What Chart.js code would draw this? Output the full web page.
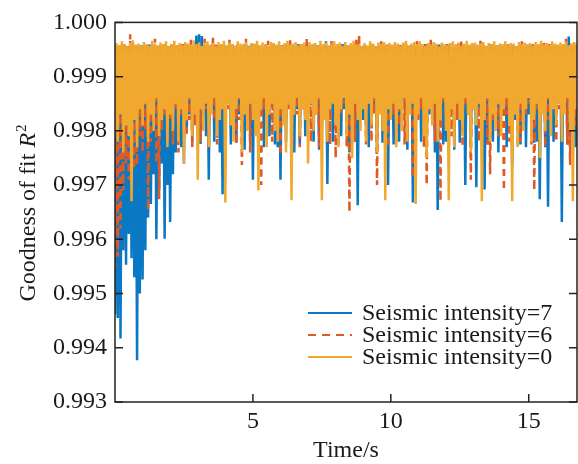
<!DOCTYPE html>
<html>
<head>
<meta charset="utf-8">
<script src="https://cdn.jsdelivr.net/npm/chart.js@4/dist/chart.umd.min.js"></script>
<style>
  html, body { margin: 0; padding: 0; background: #fff; }
</style>
</head>
<body>
<canvas id="chart" width="578" height="464"></canvas>
<script>
// sample spacing in seconds; each sample = one trough (lo) followed by one crest (hi)
const STEP = 0.1;

const xTicks = [5, 10, 15];
const yTicks = [0.993, 0.994, 0.995, 0.996, 0.997, 0.998, 0.999, 1.000];
const labels = ['Seismic intensity=7', 'Seismic intensity=6', 'Seismic intensity=0'];

// Seismic intensity = 7
const blueLo = [
  0.99462,0.99455,0.99417,0.99580,0.99553,0.99610,0.99565,0.99530,0.99377,0.99500,
  0.99526,0.99580,0.99640,0.99665,0.99720,0.99600,0.99690,0.99740,0.99601,0.99700,
  0.99632,0.99720,0.99760,0.99790,0.99770,0.99740,0.99800,0.99830,0.99780,0.99820,
  0.99840,0.99776,0.99830,0.99790,0.99710,0.99840,0.99780,0.99850,0.99760,0.99683,
  0.99830,0.99850,0.99775,0.99840,0.99780,0.99830,0.99850,0.99765,0.99840,0.99790,
  0.99710,0.99840,0.99820,0.99850,0.99770,0.99830,0.99790,0.99850,0.99775,0.99770,
  0.99710,0.99840,0.99780,0.99850,0.99830,0.99760,0.99840,0.99775,0.99850,0.99790,
  0.99830,0.99850,0.99780,0.99840,0.99765,0.99810,0.99850,0.99702,0.99840,0.99780,
  0.99850,0.99775,0.99790,0.99840,0.99850,0.99760,0.99830,0.99780,0.99663,0.99840,
  0.99820,0.99850,0.99770,0.99830,0.99840,0.99760,0.99850,0.99778,0.99830,0.99700,
  0.99840,0.99775,0.99850,0.99780,0.99830,0.99840,0.99765,0.99850,0.99668,0.99830,
  0.99850,0.99780,0.99840,0.99770,0.99830,0.99850,0.99760,0.99654,0.99840,0.99775,
  0.99780,0.99850,0.99830,0.99765,0.99840,0.99778,0.99850,0.99700,0.99830,0.99770,
  0.99840,0.99696,0.99830,0.99850,0.99692,0.99775,0.99840,0.99780,0.99850,0.99760,
  0.99830,0.99840,0.99770,0.99850,0.99735,0.99820,0.99840,0.99775,0.99850,0.99770,
  0.99830,0.99850,0.99778,0.99780,0.99674,0.99840,0.99770,0.99660,0.99850,0.99780,
  0.99830,0.99850,0.99632,0.99840,0.99775,0.99790,0.99850,0.99770
];
const blueHi = [
  0.99955,0.99958,0.99952,0.99960,0.99956,0.99953,0.99959,0.99957,0.99954,0.99958,
  0.99956,0.99953,0.99959,0.99955,0.99958,0.99952,0.99957,0.99960,0.99954,0.99956,
  0.99958,0.99955,0.99953,0.99959,0.99956,0.99960,0.99954,0.99957,0.99955,0.99976,
  0.99978,0.99975,0.99958,0.99954,0.99957,0.99960,0.99955,0.99958,0.99953,0.99956,
  0.99957,0.99954,0.99960,0.99956,0.99958,0.99953,0.99959,0.99955,0.99957,0.99960,
  0.99954,0.99958,0.99956,0.99953,0.99959,0.99957,0.99955,0.99960,0.99956,0.99954,
  0.99958,0.99955,0.99959,0.99957,0.99953,0.99956,0.99960,0.99954,0.99958,0.99955,
  0.99956,0.99959,0.99954,0.99958,0.99955,0.99957,0.99965,0.99953,0.99959,0.99956,
  0.99955,0.99957,0.99960,0.99954,0.99958,0.99956,0.99953,0.99959,0.99957,0.99955,
  0.99958,0.99954,0.99956,0.99960,0.99955,0.99957,0.99959,0.99953,0.99956,0.99958,
  0.99956,0.99959,0.99955,0.99957,0.99953,0.99960,0.99956,0.99958,0.99954,0.99957,
  0.99954,0.99957,0.99960,0.99955,0.99958,0.99956,0.99953,0.99959,0.99957,0.99955,
  0.99959,0.99955,0.99957,0.99954,0.99960,0.99956,0.99958,0.99953,0.99957,0.99959,
  0.99955,0.99958,0.99956,0.99959,0.99954,0.99957,0.99960,0.99955,0.99958,0.99956,
  0.99957,0.99954,0.99959,0.99956,0.99958,0.99955,0.99957,0.99960,0.99954,0.99958,
  0.99956,0.99959,0.99955,0.99957,0.99960,0.99954,0.99958,0.99956,0.99959,0.99955,
  0.99958,0.99955,0.99957,0.99960,0.99974,0.99956,0.99959,0.99957
];

// Seismic intensity = 6
const redLo = [
  0.99545,0.99568,0.99620,0.99690,0.99740,0.99710,0.99780,0.99730,0.99737,0.99790,
  0.99760,0.99800,0.99654,0.99780,0.99820,0.99740,0.99674,0.99800,0.99830,0.99780,
  0.99820,0.99775,0.99840,0.99760,0.99830,0.99850,0.99790,0.99820,0.99770,0.99810,
  0.99850,0.99780,0.99830,0.99840,0.99770,0.99850,0.99820,0.99775,0.99840,0.99850,
  0.99780,0.99840,0.99830,0.99850,0.99775,0.99820,0.99737,0.99840,0.99850,0.99760,
  0.99830,0.99850,0.99770,0.99700,0.99840,0.99820,0.99850,0.99780,0.99830,0.99840,
  0.99756,0.99850,0.99820,0.99840,0.99775,0.99850,0.99830,0.99770,0.99840,0.99820,
  0.99850,0.99780,0.99840,0.99830,0.99770,0.99850,0.99820,0.99840,0.99775,0.99850,
  0.99750,0.99840,0.99830,0.99850,0.99770,0.99650,0.99840,0.99780,0.99850,0.99830,
  0.99840,0.99775,0.99850,0.99780,0.99830,0.99700,0.99850,0.99820,0.99840,0.99770,
  0.99850,0.99830,0.99780,0.99810,0.99850,0.99775,0.99790,0.99840,0.99714,0.99850,
  0.99820,0.99840,0.99770,0.99700,0.99850,0.99830,0.99780,0.99810,0.99670,0.99850,
  0.99830,0.99775,0.99790,0.99850,0.99820,0.99840,0.99770,0.99850,0.99830,0.99710,
  0.99840,0.99850,0.99780,0.99830,0.99840,0.99775,0.99720,0.99820,0.99840,0.99790,
  0.99850,0.99690,0.99830,0.99780,0.99800,0.99850,0.99770,0.99780,0.99840,0.99830,
  0.99850,0.99775,0.99690,0.99840,0.99830,0.99850,0.99770,0.99820,0.99840,0.99850,
  0.99780,0.99840,0.99830,0.99850,0.99775,0.99737,0.99840,0.99810
];
const redHi = [
  0.99957,0.99960,0.99955,0.99959,0.99956,0.99978,0.99958,0.99954,0.99960,0.99957,
  0.99955,0.99959,0.99956,0.99958,0.99970,0.99954,0.99957,0.99960,0.99955,0.99958,
  0.99959,0.99956,0.99958,0.99954,0.99960,0.99957,0.99955,0.99968,0.99956,0.99959,
  0.99957,0.99955,0.99970,0.99958,0.99956,0.99974,0.99959,0.99955,0.99957,0.99960,
  0.99956,0.99968,0.99957,0.99955,0.99959,0.99956,0.99958,0.99970,0.99955,0.99957,
  0.99960,0.99955,0.99958,0.99956,0.99959,0.99966,0.99957,0.99955,0.99960,0.99958,
  0.99955,0.99959,0.99957,0.99968,0.99956,0.99958,0.99955,0.99960,0.99957,0.99970,
  0.99958,0.99956,0.99960,0.99955,0.99957,0.99959,0.99956,0.99958,0.99967,0.99955,
  0.99957,0.99960,0.99955,0.99958,0.99956,0.99959,0.99957,0.99968,0.99975,0.99956,
  0.99959,0.99955,0.99957,0.99960,0.99956,0.99958,0.99966,0.99955,0.99959,0.99957,
  0.99956,0.99958,0.99955,0.99959,0.99957,0.99960,0.99956,0.99958,0.99955,0.99970,
  0.99957,0.99955,0.99959,0.99956,0.99968,0.99957,0.99960,0.99955,0.99958,0.99956,
  0.99960,0.99956,0.99958,0.99955,0.99957,0.99969,0.99956,0.99958,0.99955,0.99959,
  0.99955,0.99958,0.99966,0.99957,0.99959,0.99956,0.99958,0.99955,0.99960,0.99957,
  0.99958,0.99955,0.99959,0.99957,0.99960,0.99956,0.99958,0.99968,0.99955,0.99959,
  0.99956,0.99959,0.99957,0.99955,0.99958,0.99966,0.99956,0.99960,0.99957,0.99955,
  0.99959,0.99956,0.99958,0.99970,0.99955,0.99957,0.99959,0.99956
];

// Seismic intensity = 0
const orangeLo = [
  0.99800,0.99780,0.99830,0.99760,0.99810,0.99790,0.99670,0.99820,0.99770,0.99840,
  0.99810,0.99850,0.99780,0.99830,0.99800,0.99860,0.99790,0.99820,0.99840,0.99770,
  0.99830,0.99800,0.99850,0.99780,0.99840,0.99740,0.99820,0.99860,0.99790,0.99830,
  0.99710,0.99840,0.99800,0.99850,0.99770,0.99830,0.99860,0.99790,0.99820,0.99840,
  0.99668,0.99850,0.99810,0.99780,0.99840,0.99860,0.99760,0.99830,0.99800,0.99850,
  0.99820,0.99790,0.99690,0.99840,0.99860,0.99770,0.99830,0.99850,0.99800,0.99780,
  0.99840,0.99810,0.99760,0.99850,0.99672,0.99830,0.99860,0.99790,0.99840,0.99820,
  0.99740,0.99850,0.99800,0.99830,0.99860,0.99672,0.99820,0.99780,0.99840,0.99850,
  0.99810,0.99770,0.99840,0.99860,0.99790,0.99830,0.99750,0.99850,0.99820,0.99800,
  0.99840,0.99780,0.99850,0.99810,0.99860,0.99760,0.99830,0.99800,0.99672,0.99840,
  0.99820,0.99850,0.99770,0.99840,0.99800,0.99860,0.99780,0.99830,0.99850,0.99665,
  0.99830,0.99860,0.99790,0.99750,0.99840,0.99810,0.99850,0.99780,0.99820,0.99860,
  0.99800,0.99672,0.99840,0.99770,0.99850,0.99820,0.99790,0.99860,0.99830,0.99760,
  0.99840,0.99810,0.99850,0.99670,0.99820,0.99860,0.99780,0.99830,0.99800,0.99850,
  0.99790,0.99840,0.99860,0.99810,0.99670,0.99830,0.99770,0.99850,0.99800,0.99840,
  0.99860,0.99780,0.99820,0.99850,0.99750,0.99830,0.99800,0.99860,0.99790,0.99840,
  0.99810,0.99850,0.99780,0.99830,0.99860,0.99800,0.99670,0.99840
];
const orangeHi = [
  0.99962,0.99958,0.99965,0.99960,0.99956,0.99963,0.99967,0.99959,0.99961,0.99957,
  0.99964,0.99960,0.99957,0.99966,0.99961,0.99958,0.99963,0.99960,0.99965,0.99956,
  0.99960,0.99966,0.99958,0.99962,0.99957,0.99964,0.99961,0.99959,0.99967,0.99960,
  0.99963,0.99957,0.99961,0.99965,0.99959,0.99962,0.99956,0.99964,0.99960,0.99966,
  0.99958,0.99963,0.99960,0.99957,0.99965,0.99961,0.99959,0.99964,0.99956,0.99962,
  0.99961,0.99966,0.99958,0.99963,0.99960,0.99957,0.99964,0.99962,0.99959,0.99965,
  0.99957,0.99962,0.99966,0.99959,0.99961,0.99964,0.99958,0.99960,0.99963,0.99956,
  0.99964,0.99959,0.99962,0.99957,0.99966,0.99960,0.99963,0.99958,0.99961,0.99965,
  0.99960,0.99963,0.99957,0.99964,0.99958,0.99962,0.99966,0.99959,0.99961,0.99957,
  0.99962,0.99958,0.99965,0.99961,0.99956,0.99963,0.99960,0.99964,0.99958,0.99962,
  0.99959,0.99964,0.99961,0.99957,0.99963,0.99966,0.99958,0.99961,0.99964,0.99960,
  0.99965,0.99960,0.99957,0.99962,0.99959,0.99964,0.99961,0.99956,0.99963,0.99960,
  0.99958,0.99962,0.99965,0.99960,0.99963,0.99957,0.99961,0.99966,0.99959,0.99962,
  0.99963,0.99959,0.99961,0.99964,0.99957,0.99962,0.99960,0.99965,0.99958,0.99961,
  0.99960,0.99965,0.99958,0.99962,0.99961,0.99956,0.99964,0.99960,0.99963,0.99959,
  0.99962,0.99957,0.99964,0.99960,0.99966,0.99959,0.99962,0.99958,0.99965,0.99961,
  0.99959,0.99963,0.99960,0.99965,0.99958,0.99962,0.99964,0.99960
];

const colors = ['#0A78C2', '#DE5A26', '#F0A92E'];
const dashes = [[], [7, 5], []];
const FONT = "'Liberation Serif', 'Times New Roman', Times, serif";

function zigzag(lo, hi) {
  const pts = [];
  for (let i = 0; i < lo.length; i++) {
    pts.push({ x: i * STEP, y: lo[i] });
    pts.push({ x: i * STEP + STEP / 2, y: hi[i] });
  }
  return pts;
}

// box, inward ticks, y title with italic R^2, x title, legend
const decorations = {
  id: 'decorations',
  afterDraw(chart) {
    const { ctx, chartArea: a, scales: { x, y } } = chart;
    ctx.save();
    ctx.strokeStyle = '#222';
    ctx.lineWidth = 1.5;
    ctx.strokeRect(a.left, a.top, a.right - a.left, a.bottom - a.top);
    ctx.beginPath();
    yTicks.forEach(v => {
      const py = y.getPixelForValue(v);
      ctx.moveTo(a.left, py); ctx.lineTo(a.left + 8, py);
      ctx.moveTo(a.right, py); ctx.lineTo(a.right - 8, py);
    });
    xTicks.forEach(v => {
      const px = x.getPixelForValue(v);
      ctx.moveTo(px, a.bottom); ctx.lineTo(px, a.bottom - 8);
    });
    ctx.stroke();

    ctx.fillStyle = '#1a1a1a';
    ctx.textBaseline = 'alphabetic';

    // x title
    ctx.font = `24px ${FONT}`;
    ctx.textAlign = 'center';
    ctx.fillText('Time/s', (a.left + a.right) / 2, 457);

    // y title
    ctx.save();
    ctx.translate(35, 213);
    ctx.rotate(-Math.PI / 2);
    ctx.textAlign = 'left';
    const p1 = 'Goodness of fit ';
    ctx.font = `24px ${FONT}`;
    const w1 = ctx.measureText(p1).width;
    ctx.font = `italic 24px ${FONT}`;
    const w2 = ctx.measureText('R').width;
    ctx.font = `15px ${FONT}`;
    const w3 = ctx.measureText('2').width;
    let u = -(w1 + w2 + w3 + 1) / 2;
    ctx.font = `24px ${FONT}`;
    ctx.fillText(p1, u, 0); u += w1;
    ctx.font = `italic 24px ${FONT}`;
    ctx.fillText('R', u, 0); u += w2 + 1;
    ctx.font = `15px ${FONT}`;
    ctx.fillText('2', u, -9);
    ctx.restore();

    // legend
    ctx.font = `24px ${FONT}`;
    ctx.textAlign = 'left';
    ctx.textBaseline = 'middle';
    labels.forEach((txt, i) => {
      const ly = 313 + i * 22;
      ctx.beginPath();
      ctx.strokeStyle = colors[i];
      ctx.lineWidth = 2;
      ctx.setLineDash(dashes[i].length ? [8, 6] : []);
      ctx.moveTo(308, ly); ctx.lineTo(352, ly);
      ctx.stroke();
      ctx.setLineDash([]);
      ctx.fillText(txt, 362, ly + 1);
    });
    ctx.restore();
  }
};

const series = [[blueLo, blueHi], [redLo, redHi], [orangeLo, orangeHi]];

function draw() {
  new Chart(document.getElementById('chart').getContext('2d'), {
    type: 'line',
    data: {
      datasets: series.map((s, i) => ({
        label: labels[i],
        data: zigzag(s[0], s[1]),
        borderColor: colors[i],
        borderWidth: 2.5,
        borderDash: dashes[i],
        pointRadius: 0,
        tension: 0,
        fill: false,
        order: 3 - i, // orange drawn last, on top
      })),
    },
    options: {
      responsive: false,
      animation: false,
      devicePixelRatio: 1,
      events: [],
      layout: { padding: { top: 18, right: 1, left: 0, bottom: 0 } },
      plugins: { legend: { display: false }, tooltip: { enabled: false } },
      scales: {
        x: {
          type: 'linear',
          min: 0,
          max: 16.75,
          grid: { display: false, drawTicks: false },
          border: { display: false },
          afterBuildTicks: s => { s.ticks = xTicks.map(v => ({ value: v })); },
          afterFit: s => { s.height = 62; },
          ticks: {
            padding: 5,
            maxRotation: 0,
            color: '#1a1a1a',
            font: { family: FONT, size: 24 },
          },
        },
        y: {
          min: 0.993,
          max: 1.0,
          grid: { display: false, drawTicks: false },
          border: { display: false },
          afterBuildTicks: s => { s.ticks = yTicks.map(v => ({ value: v })); },
          afterFit: s => { s.width = 115; },
          ticks: {
            padding: 8,
            color: '#1a1a1a',
            font: { family: FONT, size: 24 },
            callback: v => Number(v).toFixed(3),
          },
        },
      },
    },
    plugins: [decorations],
  });
}

Promise.all([
  document.fonts.load("24px 'Liberation Serif'"),
  document.fonts.load("italic 24px 'Liberation Serif'"),
]).then(draw, draw);
</script>
</body>
</html>
